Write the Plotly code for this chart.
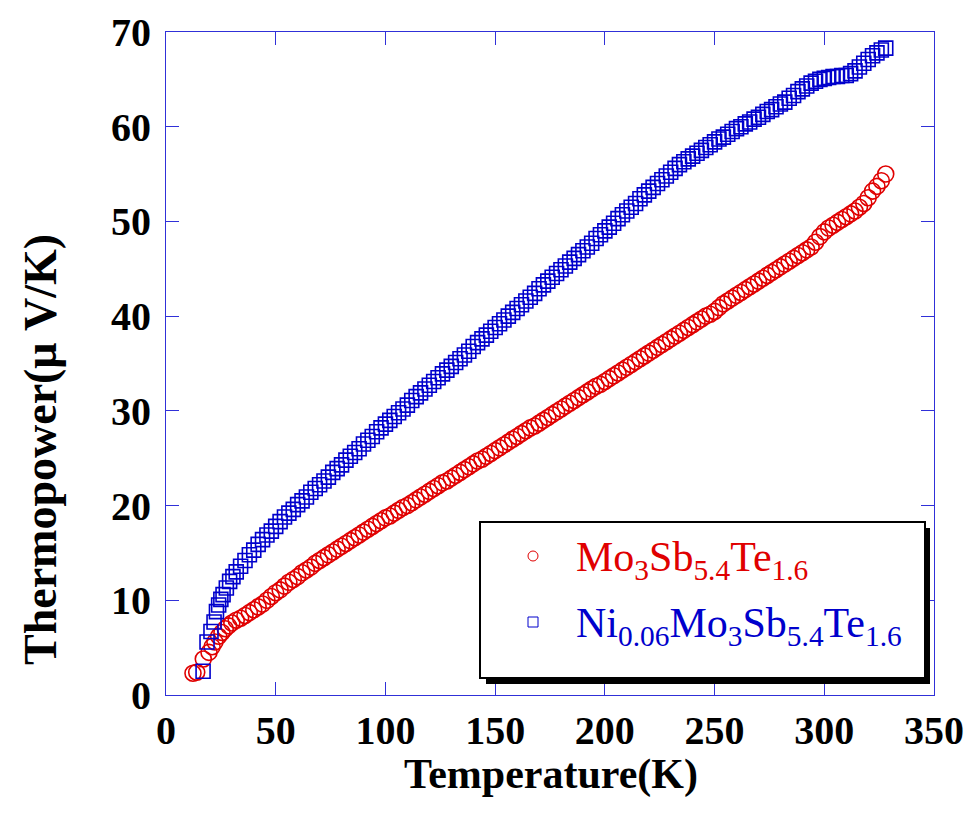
import plotly.graph_objects as go

# ---------------- data ----------------
red_T = [12.3, 14.0, 17.0, 19.6, 21.0, 22.3, 24.0, 25.5, 27.0, 28.5, 30, 32, 34, 36, 38, 40,
         42, 44, 46, 48, 50, 52, 54, 56, 58, 60, 62, 64, 66, 68, 70, 72, 74, 76, 78, 80,
         82, 84, 86, 88, 90, 92, 94, 96, 98, 100, 102, 104, 106, 108, 110, 112, 114, 116, 118, 120,
         122, 124, 126, 128, 130, 132, 134, 136, 138, 140, 142, 144, 146, 148, 150, 152, 154, 156, 158, 160,
         162, 164, 166, 168, 170, 172, 174, 176, 178, 180, 182, 184, 186, 188, 190, 192, 194, 196, 198, 200,
         202, 204, 206, 208, 210, 212, 214, 216, 218, 220, 222, 224, 226, 228, 230, 232, 234, 236, 238, 240,
         242, 244, 246, 248, 250, 252, 254, 256, 258, 260, 262, 264, 266, 268, 270, 272, 274, 276, 278, 280,
         282, 284, 286, 288, 290, 292, 294, 296, 298, 300, 302, 304, 306, 308, 310, 312, 314, 316, 318, 320,
         322, 324, 326, 328]
red_S = [2.3, 2.4, 3.8, 4.5, 5.1, 5.6, 6.2, 6.6, 7.0, 7.3, 7.6, 7.9, 8.1, 8.4, 8.7, 9.0,
         9.3, 9.6, 10.0, 10.4, 10.8, 11.1, 11.5, 11.9, 12.2, 12.5, 12.9, 13.2, 13.5, 13.9, 14.2, 14.5, 14.8, 15.1, 15.4, 15.7,
         16.0, 16.3, 16.6, 16.9, 17.2, 17.5, 17.8, 18.1, 18.4, 18.7, 18.9, 19.2, 19.5, 19.8, 20.0, 20.3, 20.6, 20.9, 21.2, 21.5,
         21.8, 22.1, 22.4, 22.6, 22.9, 23.2, 23.5, 23.8, 24.1, 24.4, 24.7, 24.9, 25.2, 25.5, 25.8, 26.1, 26.4, 26.7, 27.0, 27.3,
         27.6, 27.9, 28.2, 28.4, 28.7, 29.0, 29.3, 29.6, 29.9, 30.2, 30.5, 30.8, 31.1, 31.4, 31.7, 32.0, 32.3, 32.6, 32.8, 33.1,
         33.4, 33.7, 34.0, 34.3, 34.6, 34.9, 35.2, 35.5, 35.8, 36.1, 36.4, 36.7, 37.0, 37.3, 37.6, 37.9, 38.2, 38.5, 38.8, 39.1,
         39.4, 39.7, 40.0, 40.2, 40.5, 40.9, 41.3, 41.6, 41.9, 42.2, 42.5, 42.8, 43.1, 43.4, 43.7, 44.0, 44.3, 44.6, 44.9, 45.2,
         45.5, 45.8, 46.1, 46.4, 46.7, 47.0, 47.3, 47.8, 48.4, 48.9, 49.3, 49.6, 49.9, 50.2, 50.5, 50.8, 51.1, 51.5, 51.9, 52.5,
         53.2, 53.7, 54.3, 55.0]

blue_T = [16.9, 18.7, 20.5, 21.9, 23.0, 24.0, 25.0, 26.0, 27.5, 29.0, 30.5, 32, 34, 36, 38, 40,
          42, 44, 46, 48, 50, 52, 54, 56, 58, 60, 62, 64, 66, 68, 70, 72, 74, 76, 78, 80,
          82, 84, 86, 88, 90, 92, 94, 96, 98, 100, 102, 104, 106, 108, 110, 112, 114, 116, 118, 120,
          122, 124, 126, 128, 130, 132, 134, 136, 138, 140, 142, 144, 146, 148, 150, 152, 154, 156, 158, 160,
          162, 164, 166, 168, 170, 172, 174, 176, 178, 180, 182, 184, 186, 188, 190, 192, 194, 196, 198, 200,
          202, 204, 206, 208, 210, 212, 214, 216, 218, 220, 222, 224, 226, 228, 230, 232, 234, 236, 238, 240,
          242, 244, 246, 248, 250, 252, 254, 256, 258, 260, 262, 264, 266, 268, 270, 272, 274, 276, 278, 280,
          282, 284, 286, 288, 290, 292, 294, 296, 298, 300, 302, 304, 306, 308, 310, 312, 314, 316, 318, 320,
          322, 324, 326, 328]
blue_S = [2.5, 5.6, 6.7, 7.7, 8.8, 9.5, 10.1, 10.6, 11.3, 12.0, 12.5, 13.0, 13.6, 14.2, 14.8, 15.3,
          15.9, 16.4, 16.9, 17.3, 17.8, 18.3, 18.8, 19.2, 19.6, 20.1, 20.5, 20.9, 21.4, 21.8, 22.2, 22.6, 23.0, 23.5, 23.9, 24.3,
          24.8, 25.2, 25.6, 26.0, 26.5, 26.9, 27.3, 27.8, 28.2, 28.6, 29.0, 29.4, 29.8, 30.2, 30.6, 31.1, 31.5, 31.9, 32.3, 32.7,
          33.1, 33.5, 33.9, 34.3, 34.7, 35.1, 35.5, 35.9, 36.3, 36.8, 37.2, 37.6, 38.0, 38.4, 38.8, 39.2, 39.6, 40.0, 40.4, 40.8,
          41.2, 41.6, 42.0, 42.4, 42.9, 43.3, 43.7, 44.1, 44.5, 44.9, 45.3, 45.7, 46.1, 46.5, 46.9, 47.3, 47.7, 48.2, 48.6, 49.0,
          49.4, 49.8, 50.3, 50.7, 51.1, 51.5, 51.9, 52.4, 52.8, 53.2, 53.6, 54.0, 54.4, 54.8, 55.2, 55.6, 56.0, 56.3, 56.6, 56.9,
          57.2, 57.5, 57.8, 58.1, 58.4, 58.7, 58.9, 59.2, 59.5, 59.8, 60.0, 60.3, 60.5, 60.8, 61.0, 61.3, 61.6, 61.8, 62.1, 62.4,
          62.6, 63.0, 63.3, 63.7, 64.0, 64.3, 64.6, 64.8, 65.0, 65.1, 65.2, 65.3, 65.3, 65.4, 65.4, 65.6, 65.9, 66.3, 66.7, 67.1,
          67.5, 67.8, 68.1, 68.3]

x_ticks = [0, 50, 100, 150, 200, 250, 300, 350]
y_ticks = [0, 10, 20, 30, 40, 50, 60, 70]

x_title = "Temperature(K)"
y_title = "Thermopower(\u03bc V/K)"
red_name = "Mo<sub>3</sub>Sb<sub>5.4</sub>Te<sub>1.6</sub>"
blue_name = "Ni<sub>0.06</sub>Mo<sub>3</sub>Sb<sub>5.4</sub>Te<sub>1.6</sub>"

RED = "#e00000"
BLUE = "#0000cc"
AXC = "#3030d8"

fig = go.Figure()
fig.add_trace(go.Scatter(x=red_T, y=red_S, mode="markers", name=red_name, showlegend=False,
                         marker=dict(symbol="circle-open", size=16, color=RED, line=dict(width=1.6, color=RED))))
fig.add_trace(go.Scatter(x=blue_T, y=blue_S, mode="markers", name=blue_name, showlegend=False,
                         marker=dict(symbol="square-open", size=14, color=BLUE, line=dict(width=1.6, color=BLUE))))

# page body has an 8px margin: work in screenshot pixels, then subtract it
OFF = 8
W, H = 972 - OFF, 815 - OFF
L, R, T, B = 166, 934, 32, 695          # plot frame in screenshot pixels
pw, ph = R - L, B - T


def px(x):
    return (x - L) / pw


def py(y):
    return (B - y) / ph


axis_common = dict(showline=True, linecolor=AXC, linewidth=1.2, mirror="ticks", ticks="inside",
                   ticklen=13, tickwidth=1.2, tickcolor=AXC, showgrid=False, zeroline=False,
                   automargin=False,
                   tickfont=dict(family="Liberation Serif", size=40, color="black", weight=700))

fig.update_layout(
    width=W, height=H,
    margin=dict(l=L - OFF, r=972 - R, t=T - OFF, b=815 - B, autoexpand=False),
    paper_bgcolor="white", plot_bgcolor="white",
    xaxis=dict(range=[0, 350], tickvals=x_ticks, ticklabelstandoff=0, **axis_common),
    yaxis=dict(range=[0, 70], tickvals=y_ticks, ticklabelstandoff=6, **axis_common),
)

# axis titles
fig.add_annotation(xref="paper", yref="paper", x=px(40), y=py(450), xanchor="center", yanchor="middle",
                   text=y_title, showarrow=False, textangle=-90,
                   font=dict(family="Liberation Serif", size=46, color="black", weight=700))
fig.add_annotation(xref="paper", yref="paper", x=px(551), y=py(774), xanchor="center", yanchor="middle",
                   text=x_title, showarrow=False,
                   font=dict(family="Liberation Serif", size=42, color="black", weight=700))

# manual legend box with drop shadow
fig.add_shape(type="rect", xref="paper", yref="paper", layer="above",
              x0=px(486), x1=px(930), y0=py(684), y1=py(528),
              fillcolor="black", line=dict(width=0))
fig.add_shape(type="rect", xref="paper", yref="paper", layer="above",
              x0=px(480), x1=px(925), y0=py(678), y1=py(522),
              fillcolor="white", line=dict(width=2, color="black"))
fig.add_shape(type="circle", xref="paper", yref="paper", layer="above",
              x0=px(528), x1=px(538), y0=py(561), y1=py(551),
              line=dict(width=1, color=RED))
fig.add_shape(type="rect", xref="paper", yref="paper", layer="above",
              x0=px(528), x1=px(538), y0=py(627), y1=py(617),
              line=dict(width=1, color=BLUE))
fig.add_annotation(xref="paper", yref="paper", x=px(574), y=py(560), xanchor="left", yanchor="middle",
                   text=red_name, showarrow=False,
                   font=dict(family="Liberation Serif", size=42, color=RED))
fig.add_annotation(xref="paper", yref="paper", x=px(574), y=py(626), xanchor="left", yanchor="middle",
                   text=blue_name, showarrow=False,
                   font=dict(family="Liberation Serif", size=42, color=BLUE))

fig.write_html("out.html")
